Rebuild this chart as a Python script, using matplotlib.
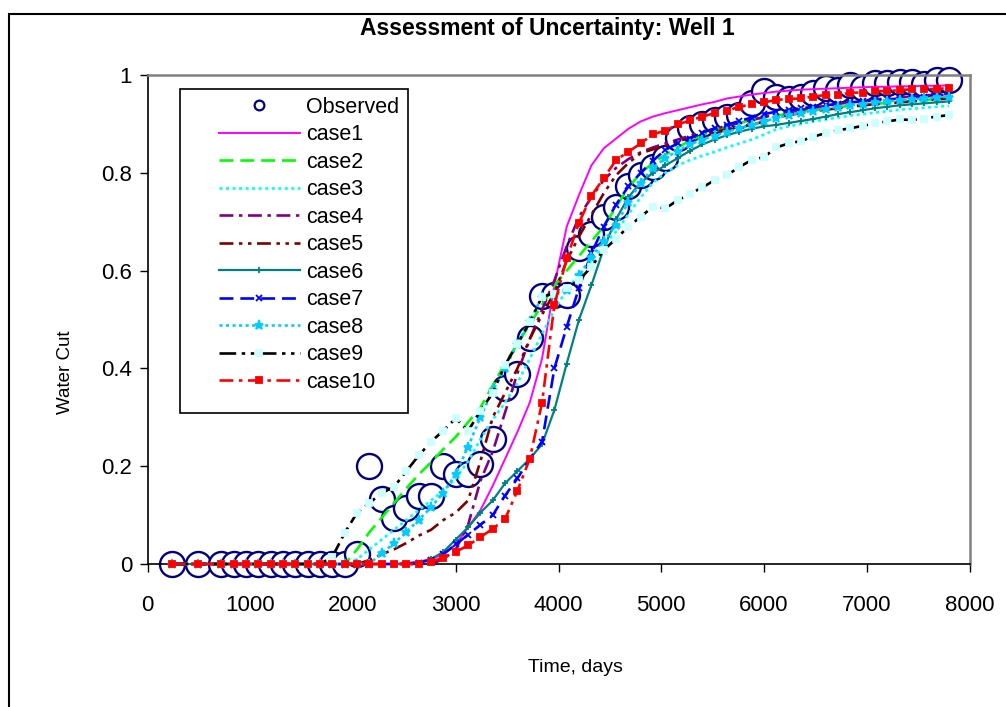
import matplotlib
matplotlib.use("Agg")
import matplotlib.pyplot as plt
from matplotlib.lines import Line2D
from matplotlib.patches import Rectangle

plt.rcParams['font.family'] = ['Liberation Sans', 'DejaVu Sans']
plt.rcParams['lines.scale_dashes'] = False

title = "Assessment of Uncertainty: Well 1"
xlabel = "Time, days"
ylabel = "Water Cut"
xticks = [0, 1000, 2000, 3000, 4000, 5000, 6000, 7000, 8000]
yticks = [0, 0.2, 0.4, 0.6, 0.8, 1.0]
ytick_labels = ["0", "0.2", "0.4", "0.6", "0.8", "1"]

time = [235, 490, 720, 840, 960, 1080, 1200, 1320, 1440, 1560, 1680, 1800, 1920,
        2040, 2160, 2280, 2400, 2520, 2640, 2760, 2880, 3000, 3120, 3240, 3360,
        3480, 3600, 3720, 3840, 3960, 4080, 4200, 4320, 4440, 4560, 4680, 4800,
        4920, 5040, 5160, 5280, 5400, 5520, 5640, 5760, 5880, 6000, 6120, 6240,
        6360, 6480, 6600, 6720, 6840, 6960, 7080, 7200, 7320, 7440, 7560, 7680, 7800]

observed = [0, 0, 0, 0, 0, 0, 0, 0, 0, 0, 0, 0, 0,
            0.02, 0.2, 0.132, 0.094, 0.114, 0.14, 0.139, 0.2, 0.184, 0.184, 0.204, 0.255,
            0.359, 0.389, 0.462, 0.548, 0.551, 0.551, 0.646, 0.675, 0.709, 0.73, 0.772, 0.795,
            0.812, 0.83, 0.871, 0.891, 0.9, 0.908, 0.914, 0.918, 0.943, 0.968, 0.956, 0.95,
            0.956, 0.963, 0.974, 0.969, 0.98, 0.974, 0.983, 0.983, 0.986, 0.985, 0.981, 0.99, 0.99]

case1 = [0, 0, 0, 0, 0, 0, 0, 0, 0, 0, 0, 0, 0,
         0, 0, 0, 0, 0.002, 0.005, 0.01, 0.02, 0.04, 0.075, 0.11, 0.16,
         0.215, 0.27, 0.33, 0.42, 0.57, 0.69, 0.755, 0.815, 0.85, 0.87, 0.89, 0.905,
         0.915, 0.922, 0.928, 0.934, 0.94, 0.945, 0.952, 0.956, 0.96, 0.963, 0.966, 0.968,
         0.97, 0.971, 0.972, 0.973, 0.974, 0.975, 0.976, 0.976, 0.977, 0.977, 0.978, 0.978, 0.979]

case2 = [0, 0, 0, 0, 0, 0, 0, 0, 0, 0, 0, 0, 0,
         0.03, 0.065, 0.095, 0.125, 0.155, 0.183, 0.208, 0.235, 0.26, 0.29, 0.32, 0.365,
         0.41, 0.45, 0.49, 0.53, 0.57, 0.6, 0.63, 0.66, 0.69, 0.73, 0.77, 0.8,
         0.82, 0.837, 0.852, 0.866, 0.877, 0.887, 0.895, 0.902, 0.908, 0.913, 0.917, 0.921,
         0.925, 0.928, 0.931, 0.934, 0.937, 0.939, 0.941, 0.943, 0.945, 0.947, 0.949, 0.951, 0.953]

case3 = [0, 0, 0, 0, 0, 0, 0, 0, 0, 0, 0, 0, 0,
         0.01, 0.03, 0.05, 0.07, 0.09, 0.11, 0.13, 0.15, 0.175, 0.21, 0.255, 0.295,
         0.33, 0.37, 0.42, 0.47, 0.52, 0.56, 0.59, 0.62, 0.65, 0.68, 0.715, 0.75,
         0.78, 0.8, 0.815, 0.826, 0.835, 0.843, 0.852, 0.86, 0.868, 0.878, 0.889, 0.895,
         0.9, 0.905, 0.909, 0.913, 0.917, 0.92, 0.923, 0.926, 0.929, 0.931, 0.933, 0.935, 0.937]

case4 = [0, 0, 0, 0, 0, 0, 0, 0, 0, 0, 0, 0, 0,
         0, 0, 0, 0, 0, 0, 0, 0.01, 0.03, 0.08, 0.17, 0.23,
         0.31, 0.39, 0.46, 0.52, 0.58, 0.65, 0.71, 0.75, 0.785, 0.81, 0.828, 0.842,
         0.852, 0.86, 0.868, 0.876, 0.883, 0.89, 0.896, 0.902, 0.908, 0.914, 0.919, 0.924,
         0.929, 0.933, 0.937, 0.941, 0.944, 0.947, 0.95, 0.952, 0.954, 0.956, 0.958, 0.96, 0.962]

case5 = [0, 0, 0, 0, 0, 0, 0, 0, 0, 0, 0, 0, 0,
         0, 0.008, 0.02, 0.03, 0.043, 0.058, 0.07, 0.09, 0.105, 0.13, 0.21, 0.3,
         0.35, 0.4, 0.46, 0.51, 0.555, 0.62, 0.67, 0.714, 0.758, 0.795, 0.82, 0.84,
         0.848, 0.855, 0.864, 0.872, 0.878, 0.884, 0.889, 0.894, 0.898, 0.905, 0.913, 0.918,
         0.922, 0.926, 0.929, 0.932, 0.935, 0.938, 0.94, 0.942, 0.944, 0.946, 0.948, 0.95, 0.952]

case6 = [0, 0, 0, 0, 0, 0, 0, 0, 0, 0, 0, 0, 0,
         0, 0, 0, 0, 0, 0.003, 0.01, 0.025, 0.05, 0.075, 0.105, 0.13,
         0.165, 0.19, 0.215, 0.245, 0.315, 0.41, 0.5, 0.57, 0.645, 0.705, 0.75, 0.78,
         0.8, 0.815, 0.83, 0.845, 0.858, 0.868, 0.877, 0.884, 0.89, 0.895, 0.898, 0.902,
         0.906, 0.91, 0.915, 0.92, 0.924, 0.928, 0.932, 0.935, 0.938, 0.94, 0.942, 0.944, 0.946]

case7 = [0, 0, 0, 0, 0, 0, 0, 0, 0, 0, 0, 0, 0,
         0, 0, 0, 0, 0, 0.003, 0.008, 0.02, 0.04, 0.06, 0.08, 0.1,
         0.14, 0.175, 0.215, 0.25, 0.4, 0.485, 0.565, 0.635, 0.69, 0.735, 0.772, 0.8,
         0.825, 0.847, 0.86, 0.87, 0.882, 0.891, 0.898, 0.906, 0.913, 0.92, 0.925, 0.928,
         0.932, 0.935, 0.938, 0.941, 0.944, 0.946, 0.948, 0.95, 0.952, 0.954, 0.956, 0.958, 0.96]

case8 = [0, 0, 0, 0, 0, 0, 0, 0, 0, 0, 0, 0, 0,
         0, 0, 0.022, 0.042, 0.066, 0.09, 0.116, 0.146, 0.184, 0.24, 0.3, 0.355,
         0.4, 0.45, 0.496, 0.547, 0.55, 0.56, 0.59, 0.628, 0.66, 0.693, 0.74, 0.78,
         0.81, 0.83, 0.845, 0.858, 0.868, 0.876, 0.884, 0.891, 0.898, 0.905, 0.912, 0.918,
         0.923, 0.927, 0.931, 0.935, 0.938, 0.941, 0.944, 0.946, 0.948, 0.95, 0.952, 0.954, 0.956]

case9 = [0, 0, 0, 0, 0, 0, 0, 0, 0, 0, 0, 0.015, 0.064,
         0.105, 0.125, 0.145, 0.158, 0.19, 0.222, 0.25, 0.273, 0.298, 0.272, 0.313, 0.35,
         0.407, 0.45, 0.494, 0.547, 0.553, 0.565, 0.58, 0.608, 0.642, 0.665, 0.69, 0.71,
         0.731, 0.727, 0.744, 0.757, 0.77, 0.785, 0.795, 0.812, 0.826, 0.832, 0.852, 0.86,
         0.865, 0.874, 0.881, 0.887, 0.891, 0.896, 0.901, 0.905, 0.909, 0.908, 0.911, 0.915, 0.918]

case10 = [0, 0, 0, 0, 0, 0, 0, 0, 0, 0, 0, 0, 0,
          0, 0, 0, 0, 0, 0, 0.005, 0.013, 0.025, 0.038, 0.055, 0.072,
          0.092, 0.15, 0.215, 0.33, 0.53, 0.625, 0.698, 0.753, 0.789, 0.826, 0.843, 0.86,
          0.879, 0.886, 0.899, 0.907, 0.915, 0.922, 0.927, 0.935, 0.94, 0.944, 0.949, 0.951,
          0.952, 0.956, 0.959, 0.959, 0.964, 0.964, 0.967, 0.967, 0.969, 0.971, 0.971, 0.971, 0.974]

case_names = ["case1", "case2", "case3", "case4", "case5",
              "case6", "case7", "case8", "case9", "case10"]
case_values = [case1, case2, case3, case4, case5, case6, case7, case8, case9, case10]

# styles: color, linestyle, linewidth, marker, marker color, marker size
styles = [
    dict(color="#FF00FF", ls="-", lw=1.4, marker=None, mc=None, ms=0),
    dict(color="#00FF00", ls=(0, (10, 5)), lw=1.9, marker=None, mc=None, ms=0),
    dict(color="#00FFFF", ls=(0, (2.2, 2.5)), lw=1.9, marker=None, mc=None, ms=0),
    dict(color="#800080", ls=(0, (10, 4, 2.5, 4)), lw=1.9, marker=None, mc=None, ms=0),
    dict(color="#800000", ls=(0, (10, 4, 2.5, 4, 2.5, 4)), lw=1.9, marker=None, mc=None, ms=0),
    dict(color="#008080", ls="-", lw=1.6, marker="+", mc="#008080", ms=5),
    dict(color="#0000FF", ls=(0, (10, 5)), lw=1.9, marker="x", mc="#0000FF", ms=4.5),
    dict(color="#00CCFF", ls=(0, (2.2, 2.5)), lw=1.9, marker="*", mc="#00CCFF", ms=6.5),
    dict(color="#000000", ls=(0, (12, 4, 2.5, 4, 2.5, 4)), lw=1.9, marker="s", mc="#CCFFFF", ms=5),
    dict(color="#FF0000", ls=(0, (10, 4, 2.5, 4)), lw=1.9, marker="s", mc="#FF0000", ms=5),
]

W, H = 1006, 707
fig = plt.figure(figsize=(W / 100, H / 100), dpi=100)
x0, x1, y0, y1 = 147.5, 969.5, 75, 564
ax = fig.add_axes([x0 / W, 1 - y1 / H, (x1 - x0) / W, (y1 - y0) / H])

ax.plot(time, observed, ls="none", marker="o", ms=18, mfc="white", mec="#000080",
        mew=1.7, clip_on=False, zorder=2)
for i, (vals, st) in enumerate(zip(case_values, styles)):
    kw = dict(color=st["color"], ls=st["ls"], lw=st["lw"], zorder=3 + i, clip_on=False)
    if st["marker"]:
        kw.update(marker=st["marker"], ms=st["ms"], mfc=st["mc"], mec=st["mc"], mew=1.3)
    ax.plot(time, vals, **kw)

ax.set_xlim(0, 8000)
ax.set_ylim(0, 1)
ax.set_xticks(xticks)
ax.set_xticklabels([str(v) for v in xticks])
ax.set_yticks(yticks)
ax.set_yticklabels(ytick_labels)
ax.tick_params(axis="x", direction="out", length=6, width=1, pad=16, labelsize=16)
ax.tick_params(axis="y", direction="out", length=6, width=1, pad=5, labelsize=16)
for s in ["left", "bottom"]:
    ax.spines[s].set_color("#000000")
    ax.spines[s].set_linewidth(1.2)
for s in ["top", "right"]:
    ax.spines[s].set_color("#808080")
    ax.spines[s].set_linewidth(1.8)

fig.text(547 / W, 1 - 28 / H, title, ha="center", va="center", fontsize=16.5, fontweight="bold")
fig.text(575 / W, 1 - 667 / H, xlabel, ha="center", va="center", fontsize=14)
fig.text(65 / W, 1 - 372 / H, ylabel, ha="center", va="center", fontsize=13.5, rotation=90)

# legend box
fig.add_artist(Rectangle((180 / W, 1 - 413 / H), 228 / W, 324 / H, transform=fig.transFigure,
                         facecolor="white", edgecolor="black", lw=1.2, zorder=4))
handles = [Line2D([], [], ls="none", marker="o", ms=7, mfc="white", mec="#000080", mew=1.6)]
for st in styles:
    kw = dict(color=st["color"], ls=st["ls"], lw=st["lw"])
    if st["marker"]:
        kw.update(marker=st["marker"], ms=st["ms"], mfc=st["mc"], mec=st["mc"], mew=1.3)
    handles.append(Line2D([], [], **kw))
labels = ["Observed"] + case_names
fig.legend(handles, labels, loc="upper left", bbox_to_anchor=(219 / W, 1 - 97 / H),
           frameon=False, fontsize=15.5, handlelength=3.75, handletextpad=0.3,
           labelspacing=0.3, borderpad=0.0, borderaxespad=0.0, numpoints=1)

# outer chart border
fig.add_artist(Rectangle((9 / W, -0.1), 1.2, 1 - 14 / H + 0.1, transform=fig.transFigure,
                         facecolor="none", edgecolor="black", lw=1.5, zorder=0))

fig.savefig("out.png", dpi=100, facecolor="white")
